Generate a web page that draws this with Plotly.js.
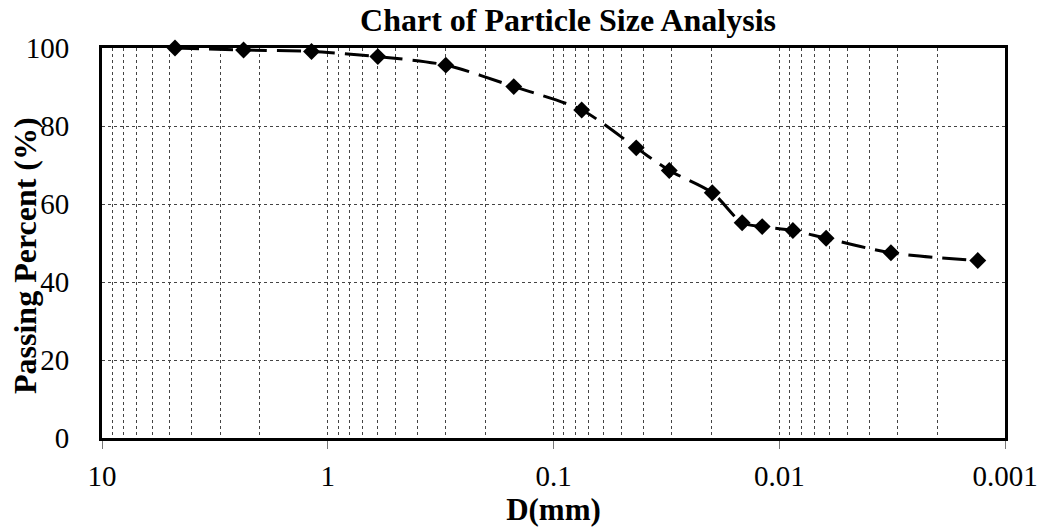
<!DOCTYPE html>
<html>
<head>
<meta charset="utf-8">
<script src="https://cdn.plot.ly/plotly-3.0.1.min.js"></script>
<style>
  html, body { margin: 0; padding: 0; background: #fff; }
  #chart { width: 1044px; height: 530px; }
</style>
</head>
<body>
<div id="chart"></div>
<script>
// Grain diameter (mm) and cumulative passing (%) from sieve + hydrometer test
const diameterMm = [4.75, 2.36, 1.18, 0.6, 0.3, 0.15, 0.075, 0.043, 0.0307, 0.0198, 0.0146, 0.0119, 0.0087, 0.0062, 0.0032, 0.00132];
const passingPct = [100, 99.5, 99.1, 97.8, 95.6, 90.1, 84.1, 74.4, 68.6, 62.9, 55.2, 54.2, 53.2, 51.2, 47.5, 45.5];

const xTickVals = [10, 1, 0.1, 0.01, 0.001];
const xTickText = ['10', '1', '0.1', '0.01', '0.001'];
const yTickVals = [0, 20, 40, 60, 80, 100];

const FONT = 'Liberation Serif, Times New Roman, serif';
const gridColor = '#444444';

const trace = {
  x: diameterMm,
  y: passingPct,
  type: 'scatter',
  mode: 'lines+markers',
  line: { color: '#000', width: 3, dash: '24px,10px', shape: 'spline', smoothing: 0.8 },
  marker: { symbol: 'diamond', size: 13, color: '#000' },
  cliponaxis: false,
  hoverinfo: 'x+y'
};

const layout = {
  width: 1044,
  height: 530,
  margin: { l: 102, r: 39, t: 48, b: 92 },
  paper_bgcolor: '#fff',
  plot_bgcolor: '#fff',
  showlegend: false,
  title: {
    text: '<b>Chart of Particle Size Analysis</b>',
    font: { family: FONT, size: 32, color: '#000' },
    x: (568 - 102) / 903, xref: 'paper', xanchor: 'center',
    y: 1 - 20 / 530, yref: 'container', yanchor: 'middle'
  },
  xaxis: {
    type: 'log',
    range: [1, -3],
    tickvals: xTickVals,
    ticktext: xTickText,
    ticks: 'outside',
    ticklen: 8,
    tickwidth: 1,
    tickcolor: '#777',
    ticklabelstandoff: 2,
    tickfont: { family: FONT, size: 29, color: '#000' },
    showline: true, linecolor: '#000', linewidth: 3, mirror: true,
    showgrid: true, gridcolor: gridColor, gridwidth: 1, griddash: 'dot',
    minor: { dtick: 'D1', showgrid: true, gridcolor: gridColor, gridwidth: 1, griddash: 'dot', ticks: '' },
    zeroline: false,
    title: {
      text: '<b>D(mm)</b>',
      font: { family: FONT, size: 31, color: '#000' },
      standoff: 8
    },
    automargin: false
  },
  yaxis: {
    range: [0, 100],
    tickvals: yTickVals,
    ticks: '',
    ticklabelstandoff: 24,
    tickfont: { family: FONT, size: 29, color: '#000' },
    showline: true, linecolor: '#000', linewidth: 3, mirror: true,
    showgrid: true, gridcolor: gridColor, gridwidth: 1, griddash: 'dot',
    zeroline: false,
    automargin: false
  },
  annotations: [{
    text: '<b>Passing Percent (%)</b>',
    font: { family: FONT, size: 32, color: '#000' },
    textangle: -90,
    xref: 'paper', yref: 'paper',
    x: (25 - 102) / 903, y: (438 - 256) / 390,
    xanchor: 'center', yanchor: 'middle',
    showarrow: false
  }]
};

Plotly.newPlot('chart', [trace], layout, { staticPlot: true, displayModeBar: false });
</script>
</body>
</html>
